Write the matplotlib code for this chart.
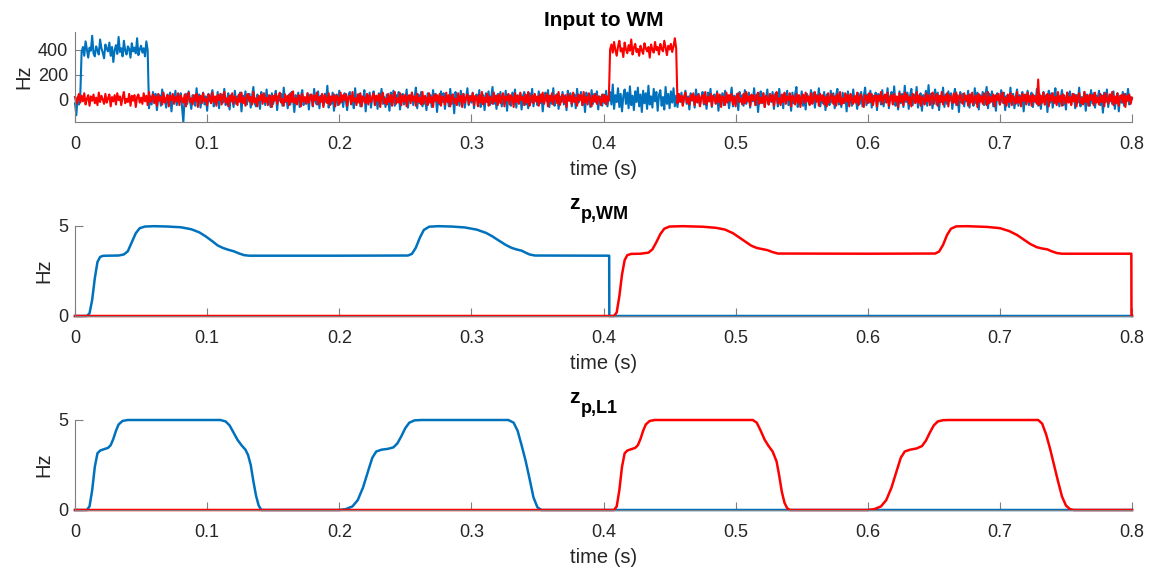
import numpy as np
import matplotlib.pyplot as plt

# ==========================================================
# DATA
# ==========================================================

# input to WM, one sample per ms (0 .. 0.8 s), Hz
input_dt = 0.001

input_blue = [
    -30, -125, 20, -40, 35, 380, 420, 350, 465, 400, 335, 415, 390, 510, 370, 345, 425, 395, 360, 480, 410, 375, 330, 440, 405,
    385, 455, 350, 420, 300, 395, 435, 365, 500, 380, 410, 345, 470, 390, 360, 425, 405, 335, 450, 385, 415, 370, 490, 355, 400,
    430, 375, 410, 345, 465, 395, -70, 25, -40, 60, -15, 45, -85, 10, 35, -50, 80, -20, 5, -65, 40, -30, 55, -95, 15,
    -25, 70, -45, 30, -10, 50, -60, -180, 20, 45, -35, 65, -5, -75, 35, 15, -50, 90, -20, 40, -65, 10, 55, -40, 25,
    -90, 45, -15, 30, 75, -55, 5, -30, 60, -70, 20, 40, -25, 85, -45, -10, 50, -80, 35, 15, -60, 70, -35, 25, -5,
    55, -95, 30, -20, 65, -40, 10, 45, -65, 25, 100, -30, -55, 40, 15, -75, 60, -15, 35, -45, 80, -25, 5, -60, 50,
    -35, 20, 70, -85, 30, -10, 45, -50, 95, -20, 15, -70, 40, -40, 60, 5, -100, 35, -25, 55, -60, 25, 75, -45, 10,
    -30, 50, -80, 40, 20, -55, 85, -15, -40, 65, -70, 30, 10, -50, 45, -20, 110, -65, 25, -35, 55, -90, 15, 40, -45,
    70, -25, 30, -60, 50, -10, -85, 35, 60, -40, 20, -70, 90, -30, 5, 45, -55, 25, -15, 75, -95, 40, -20, 55, -65,
    15, 65, -45, 30, -75, 50, -5, 85, -35, 20, -60, 40, 10, -90, 55, -25, 70, -50, 35, -15, 60, -80, 25, 45, -40,
    -20, 80, -65, 30, -10, 55, -45, 15, 95, -70, 40, -30, 60, -55, 20, 5, -85, 50, -25, 35, -60, 75, -15, 45, -100,
    25, -40, 65, -20, 50, -75, 30, 10, -55, 85, -35, 40, -110, 60, -15, 25, -50, 70, -30, 45, -65, 15, 90, -45, 30,
    -25, 55, -70, 20, 40, -40, 75, -60, 10, 35, -85, 50, -20, 65, -45, 15, 100, -35, 30, -75, 45, -10, 60, -55, 25,
    -30, 70, -90, 40, 15, -50, 55, -20, 80, -65, 35, -5, 45, -80, 25, 60, -40, 10, -70, 50, -25, 85, -55, 30, 5,
    -45, 65, -30, 40, -95, 20, 55, -15, 75, -60, 30, -35, 90, -50, 15, 45, -75, 25, -20, 60, -40, 35, -85, 70, -10,
    50, -55, 20, 40, -70, 85, -25, 10, 60, -45, 35, -100, 55, -15, 30, -60, 75, -35, 45, -20, 65, -80, 25, 15, -50,
    40, -30, 70, -55, 20, 60, -40, 120, -75, 35, -20, 90, -60, 45, -95, 25, 80, -35, 55, -70, 105, -45, 30, -85, 65,
    -20, 95, -55, 40, -100, 70, -30, 50, -75, 110, -40, 25, -65, 85, -15, 60, -90, 35, 75, -50, 20, -80, 100, -35, 45,
    -70, 65, -25, 90, -55, 30, -60, 40, -20, 55, -45, 15, 70, -35, 25, -80, 50, -10, 35, -65, 80, -25, 45, -50, 20,
    60, -40, 10, -75, 55, -15, 85, -60, 30, 40, -30, 65, -90, 25, -5, 50, -45, 70, -20, 35, -70, 15, 95, -55, 30,
    -25, 45, -85, 60, -10, 35, -50, 75, -35, 20, 55, -65, 30, -15, 90, -45, 40, -100, 25, 65, -30, 50, -60, 10, 80,
    -40, 35, -20, 60, -75, 45, 15, -55, 85, -25, 30, -70, 50, -5, 70, -45, 25, -90, 55, -30, 40, 100, -60, 20, -35,
    65, -50, 30, -80, 45, 10, -40, 75, -20, 55, -65, 35, -10, 90, -55, 25, -30, 60, -85, 40, 15, -45, 70, -25, 50,
    -70, 30, 85, -40, 20, -60, 55, -15, 45, -95, 65, -30, 35, -50, 80, -20, 10, -75, 50, -35, 60, -55, 25, 95, -45,
    40, -25, 70, -65, 30, -10, 55, -85, 45, 20, -40, 75, -55, 35, -20, 90, -70, 25, 60, -35, 105, -50, 15, -80, 65,
    -30, 45, -60, 110, -20, 55, -75, 30, 85, -45, 40, -15, 100, -65, 20, 50, -90, 35, -30, 70, -50, 115, -25, 45, -70,
    25, 80, -40, 55, -85, 30, -20, 95, -60, 40, -35, 65, -10, 50, -75, 20, 85, -45, 35, -100, 60, -25, 45, -55, 30,
    -15, 70, -65, 40, 20, -50, 90, -30, 55, -80, 35, -5, 60, -45, 25, 100, -70, 45, -20, 65, -55, 30, -90, 50, 15,
    -40, 75, -25, 55, -85, 30, 10, -60, 95, -35, 45, -70, 20, 80, -50, 35, -15, 60, -95, 40, -30, 70, -45, 25, 55,
    -60, 30, -20, 85, -50, 45, -75, 15, 60, -40, 35, -100, 70, -25, 50, -65, 20, 90, -35, 40, -55, 10, 75, -45, 30,
    -80, 55, -15, 65, -40, 25, 45, -70, 35, -25, 95, -55, 20, -35, 60, -90, 40, 15, -50, 75, -30, 50, -65, 30, -10,
    70, -45, 35, -105, 55, -20, 80, -60, 25, 40, -35, 65, -75, 15, 50, -95, 30, -25, 60, -50, 45, -15, 85, -40, 20,
    5,
]

input_red = [
    20, -35, 10, 45, -25, 30, -15, 50, -40, 5, 35, -50, 25, -10, 40, -30, 15, -45, 55, -20, 30, 0, -35, 45, -25,
    10, 40, -55, 20, -15, 35, -40, 50, -5, 25, -45, 15, 60, -30, 5, -20, 45, -50, 30, -10, 35, -60, 20, 40, -25,
    15, -35, 50, -15, 30, -45, 60, -20, 5, 40, -30, 25, -50, 45, -10, 20, -40, 55, -25, 10, 35, -55, 30, -5, 45,
    -35, 20, -15, 50, -45, 30, 5, -25, 40, -55, 25, 55, -20, 10, -40, 35, -10, 45, -60, 20, 30, -30, 50, -15, 5,
    -45, 40, 15, -30, 55, -20, 25, -50, 35, -5, 45, -40, 20, 60, -25, 10, -55, 30, -15, 50, -35, 25, 5, -45, 40,
    -20, 55, -30, 15, -50, 35, 45, -15, 20, -40, 60, -25, 10, -55, 30, -5, 40, -35, 50, -20, 15, -45, 35, 25, -60,
    30, -10, 45, -35, 20, 55, -25, 5, -50, 40, -15, 30, -45, 50, -20, 65, -30, 10, -40, 35, 25, -55, 45, -15, 20,
    -35, 50, -25, 15, 40, -50, 30, -5, 55, -40, 20, -20, 45, -60, 35, 10, -30, 50, -45, 25, -10, 40, -55, 30, 15,
    -40, 55, -20, 35, -5, 45, -50, 20, 30, -35, 60, -15, 10, -45, 40, -25, 50, -55, 25, 5, -30, 45, -40, 35, -20,
    15, 50, -45, 30, -10, 40, -60, 25, 55, -30, 5, -40, 45, -20, 35, -50, 20, 60, -35, 10, -25, 50, -45, 30, -15,
    40, -55, 20, 35, -30, 55, -10, 25, -50, 45, -20, 15, -40, 60, -35, 30, 5, -45, 50, -25, 20, -60, 40, -10, 35,
    -30, 45, -50, 25, 10, -40, 55, -20, 35, -55, 20, 40, -30, 5, -45, 50, -15, 30, -60, 45, -25, 15, 40, -35, 25,
    -10, 50, -45, 30, 20, -55, 35, -25, 60, -40, 15, -20, 45, -50, 25, 5, -35, 55, -15, 30, -45, 40, -30, 20, 50,
    -55, 25, -10, 45, -40, 35, 15, -60, 50, -20, 30, -35, 55, -5, 20, -45, 40, -25, 60, -50, 10, 35, -30, 45, -15,
    25, -50, 40, -20, 55, -35, 10, 45, -55, 30, -15, 50, -40, 20, 35, -30, 60, -45, 5, 40, -25, 25, -60, 45, -10,
    30, -35, 55, -20, 15, -50, 40, -5, 35, -45, 60, -25, 20, -40, 50, 10, -55, 30, -15, 45, -35, 25, 5, -45, 40,
    -20, 35, -40, 25, -10, 400, 440, 375, 460, 395, 350, 425, 470, 385, 410, 340, 455, 400, 370, 435, 390, 480, 360, 415, 445,
    380, 405, 350, 430, 395, 365, 450, 410, 385, 420, 335, 440, 400, 375, 460, 395, 420, 360, 445, 405, 385, 470, 415, 355, 430,
    400, 445, 380, 425, 490, 410, -30, 45, -15, 30, -50, 20, 55, -25, 10, -40, 35, -5, 50, -45, 25, -20, 40, -55, 15,
    35, -30, 60, -40, 20, -15, 45, -50, 30, 5, -35, 50, -20, 40, -60, 25, 15, -45, 55, -25, 35, -10, 45, -40, 20,
    -55, 30, 50, -20, 10, -40, 45, -30, 60, -15, 25, -50, 40, -5, 35, -45, 20, 55, -35, 15, -25, 50, -60, 30, 5,
    -40, 45, -15, 35, -50, 20, 60, -30, 10, -45, 40, -20, 55, -35, 25, -5, 50, -55, 30, 15, -40, 45, -25, 35, -60,
    20, 40, -30, 55, -15, 25, -45, 50, -35, 10, 60, -20, 30, -50, 45, -10, 35, -40, 20, -55, 50, -25, 15, 45, -35,
    25, -50, 40, -20, 60, -40, 10, -30, 50, -15, 35, -55, 45, 5, -35, 30, -25, 55, -45, 20, 40, -10, -60, 35, 25,
    -30, 50, -20, 45, -45, 15, 35, -55, 30, -10, 60, -35, 20, 40, -25, 55, -50, 10, 35, -40, 45, -15, 25, -60, 50,
    -20, 30, -45, 55, -5, 40, -35, 20, -55, 45, 15, -30, 60, -25, 35, -50, 25, 5, -40, 50, -15, 35, -45, 20, 55,
    -35, 10, 45, -50, 30, -20, 60, -40, 25, -10, 50, -55, 35, 15, -30, 45, -25, 55, -45, 20, 40, -15, -35, 50, -5,
    30, -50, 40, -25, 55, -40, 15, 35, -60, 45, -20, 25, -35, 50, 10, -45, 60, -30, 20, -15, 40, -55, 35, -5, 45,
    -40, 25, 55, -30, 15, -50, 40, -20, 50, -45, 30, 5, -35, 60, -25, 20, -55, 45, -10, 35, -40, 55, -20, 30, -50,
    40, -15, 25, -35, 160, -45, 30, -25, 55, -40, 15, 45, -55, 35, -10, 50, -30, 20, -45, 60, -20, 30, -50, 40, 5,
    -35, 55, -25, 20, -45, 45, -15, 35, -55, 25, 50, -30, 10, -40, 60, -20, 30, -50, 40, -5, 35, -45, 55, -25, 15,
    -40, 45, -20, 30, -55, 50, 5, -35, 40, -15, 60, -45, 25, -30, 50, -50, 20, 35, -25, 45, -60, 30, -10, 40, -35,
    15,
]

# z_p,WM (Hz)
wm_blue_t = [0, 0.009, 0.011, 0.013, 0.015, 0.017, 0.019, 0.021, 0.024, 0.033, 0.037, 0.040,
             0.043, 0.046, 0.049, 0.053, 0.060, 0.070, 0.080, 0.088, 0.094, 0.099, 0.104,
             0.108, 0.112, 0.116, 0.120, 0.124, 0.128, 0.132, 0.200, 0.252, 0.255, 0.258,
             0.261, 0.264, 0.268, 0.275, 0.285, 0.295, 0.304, 0.311, 0.316, 0.321, 0.326,
             0.330, 0.334, 0.338, 0.341, 0.344, 0.348, 0.4043, 0.4044, 0.8]
wm_blue_v = [0, 0, 0.15, 0.9, 2.1, 3.0, 3.28, 3.34, 3.35, 3.36, 3.42, 3.6,
             4.1, 4.6, 4.88, 4.97, 4.99, 4.97, 4.93, 4.82, 4.65, 4.42, 4.15,
             3.92, 3.78, 3.68, 3.6, 3.48, 3.38, 3.35, 3.35, 3.36, 3.45, 3.8,
             4.35, 4.78, 4.96, 4.99, 4.97, 4.92, 4.8, 4.62, 4.42, 4.18, 3.95,
             3.8, 3.7, 3.63, 3.52, 3.42, 3.36, 3.35, 0, 0]

wm_red_t = [0, 0.408, 0.410, 0.412, 0.414, 0.416, 0.418, 0.421, 0.428, 0.434, 0.437, 0.440,
            0.443, 0.446, 0.450, 0.460, 0.475, 0.485, 0.492, 0.498, 0.503, 0.508, 0.512,
            0.516, 0.520, 0.524, 0.528, 0.532, 0.600, 0.651, 0.654, 0.657, 0.660, 0.663,
            0.667, 0.675, 0.690, 0.700, 0.707, 0.713, 0.718, 0.723, 0.728, 0.732, 0.736,
            0.739, 0.743, 0.747, 0.7995, 0.7996, 0.8]
wm_red_v = [0, 0, 0.2, 1.1, 2.3, 3.1, 3.38, 3.45, 3.46, 3.52, 3.7, 4.1,
            4.55, 4.85, 4.97, 4.99, 4.96, 4.9, 4.8, 4.6, 4.35, 4.1, 3.9,
            3.78, 3.72, 3.66, 3.55, 3.47, 3.46, 3.47, 3.58, 3.95, 4.5, 4.85,
            4.98, 4.99, 4.95, 4.88, 4.72, 4.5, 4.25, 4.0, 3.82, 3.75, 3.7,
            3.6, 3.5, 3.46, 3.46, 0, 0]

# z_p,L1 (Hz)
l1_blue_t = [0, 0.009, 0.011, 0.013, 0.015, 0.017, 0.019, 0.022, 0.025, 0.027, 0.029, 0.031,
             0.033, 0.036, 0.040, 0.110, 0.114, 0.117, 0.120, 0.123, 0.126, 0.129, 0.131,
             0.133, 0.135, 0.137, 0.139, 0.141, 0.200, 0.205, 0.210, 0.214, 0.218, 0.222,
             0.225, 0.228, 0.232, 0.237, 0.241, 0.244, 0.247, 0.250, 0.253, 0.257, 0.262,
             0.328, 0.332, 0.335, 0.338, 0.341, 0.344, 0.347, 0.350, 0.353, 0.8]
l1_blue_v = [0, 0, 0.2, 1.1, 2.4, 3.15, 3.3, 3.38, 3.45, 3.6, 3.95, 4.4,
             4.75, 4.95, 5.0, 5.0, 4.92, 4.7, 4.3, 3.9, 3.6, 3.35, 3.05,
             2.5, 1.6, 0.8, 0.25, 0, 0, 0.05, 0.2, 0.55, 1.25, 2.2,
             2.9, 3.25, 3.35, 3.4, 3.48, 3.7, 4.1, 4.55, 4.85, 4.98, 5.0,
             5.0, 4.85, 4.4, 3.6, 2.75, 1.75, 0.7, 0.15, 0, 0]

l1_red_t = [0, 0.408, 0.410, 0.412, 0.414, 0.416, 0.418, 0.421, 0.424, 0.426, 0.428, 0.430,
            0.432, 0.435, 0.439, 0.513, 0.516, 0.519, 0.522, 0.525, 0.528, 0.531, 0.533,
            0.535, 0.537, 0.539, 0.541, 0.600, 0.605, 0.610, 0.614, 0.618, 0.622, 0.625,
            0.628, 0.632, 0.637, 0.641, 0.644, 0.647, 0.650, 0.653, 0.657, 0.662,
            0.729, 0.732, 0.735, 0.738, 0.741, 0.744, 0.747, 0.750, 0.753, 0.756, 0.8]
l1_red_v = [0, 0, 0.2, 1.1, 2.4, 3.15, 3.3, 3.38, 3.45, 3.6, 3.95, 4.4,
            4.75, 4.95, 5.0, 5.0, 4.85, 4.4, 3.9, 3.55, 3.25, 2.7, 1.9,
            1.0, 0.4, 0.1, 0, 0, 0.05, 0.2, 0.55, 1.25, 2.2, 2.9,
            3.25, 3.35, 3.42, 3.55, 3.85, 4.3, 4.7, 4.92, 4.99, 5.0,
            5.0, 4.8, 4.2, 3.4, 2.5, 1.6, 0.75, 0.25, 0.05, 0, 0]

# ==========================================================
# STYLE
# ==========================================================

BLUE = "#0072BD"
RED = "#FF0000"
AXIS_GRAY = "#7f7f7f"
TEXT_GRAY = "#262626"

plt.rcParams["font.family"] = ["Liberation Sans", "DejaVu Sans"]
plt.rcParams["font.size"] = 13

fig = plt.figure(figsize=(11.53, 5.73), dpi=100)

left = 75 / 1153
width = (1132 - 75) / 1153
height = 90 / 573

ax_in = fig.add_axes([left, 1 - 122 / 573, width, height])
ax_wm = fig.add_axes([left, 1 - 316 / 573, width, height])
ax_l1 = fig.add_axes([left, 1 - 510 / 573, width, height])


def style_axes(ax):
    for side in ["top", "right"]:
        ax.spines[side].set_visible(False)
    for side in ["left", "bottom"]:
        ax.spines[side].set_color(AXIS_GRAY)
        ax.spines[side].set_linewidth(0.8)
    ax.tick_params(direction="in", length=6, width=0.8, color=AXIS_GRAY,
                   labelcolor=TEXT_GRAY, labelsize=13)
    ax.tick_params(axis="x", pad=10)
    ax.tick_params(axis="y", pad=5)
    ax.set_xlim(0, 0.8)
    ax.set_xticks([0, 0.1, 0.2, 0.3, 0.4, 0.5, 0.6, 0.7, 0.8])
    ax.set_xticklabels(["0", "0.1", "0.2", "0.3", "0.4", "0.5", "0.6", "0.7", "0.8"])
    ax.set_xlabel("time (s)", color=TEXT_GRAY, fontsize=14.5, labelpad=5)
    ax.set_ylabel("Hz", color=TEXT_GRAY, fontsize=14.5, labelpad=3)


def sub_title(ax, main, sub):
    # bold "z" with a large bold subscript, centred over the axes
    ax.annotate(main, xy=(0.5, 1), xycoords="axes fraction",
                xytext=(-17, 12.5), textcoords="offset points",
                ha="right", va="baseline", fontsize=15, fontweight="bold")
    ax.annotate(sub, xy=(0.5, 1), xycoords="axes fraction",
                xytext=(-16.5, 4.8), textcoords="offset points",
                ha="left", va="baseline", fontsize=13, fontweight="bold")


# ==========================================================
# INPUT TO WM
# ==========================================================

t_in = np.arange(len(input_blue)) * input_dt

ax_in.plot(t_in, input_blue, color=BLUE, lw=1.5)
ax_in.plot(t_in, input_red, color=RED, lw=1.5)
style_axes(ax_in)
ax_in.set_ylim(-180, 540)
ax_in.set_yticks([0, 200, 400])
ax_in.set_title("Input to WM", fontsize=15, fontweight="bold", pad=4)

# ==========================================================
# z_p,WM
# ==========================================================

ax_wm.plot(wm_blue_t, wm_blue_v, color=BLUE, lw=1.8)
ax_wm.plot(wm_red_t, wm_red_v, color=RED, lw=1.8)
style_axes(ax_wm)
ax_wm.set_ylim(0, 5)
ax_wm.set_yticks([0, 5])
sub_title(ax_wm, "z", "p,WM")

# ==========================================================
# z_p,L1
# ==========================================================

ax_l1.plot(l1_blue_t, l1_blue_v, color=BLUE, lw=1.8)
ax_l1.plot(l1_red_t, l1_red_v, color=RED, lw=1.8)
style_axes(ax_l1)
ax_l1.set_ylim(0, 5)
ax_l1.set_yticks([0, 5])
sub_title(ax_l1, "z", "p,L1")

for ax in [ax_in, ax_wm, ax_l1]:
    for line in ax.get_lines():
        line.set_clip_on(False)

fig.savefig("out.png", dpi=100)
